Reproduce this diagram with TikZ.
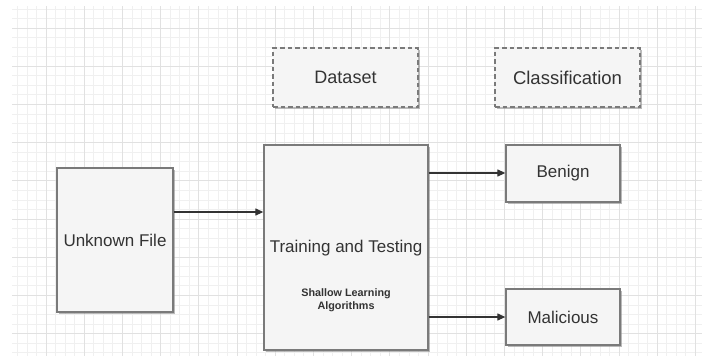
\documentclass[tikz,border=0pt]{standalone}
\usepackage{fontspec}
\setmainfont{Liberation Sans}
\usetikzlibrary{arrows.meta,shadows,calc}
\definecolor{boxfill}{HTML}{F5F5F5}
\definecolor{boxline}{HTML}{7A7A7A}
\definecolor{txt}{HTML}{333333}
\definecolor{gridminor}{HTML}{F0F0F0}
\definecolor{gridmajor}{HTML}{E1E1E1}
\tikzset{
  box/.style={draw=boxline, fill=boxfill, line width=1.3pt, rectangle,
    inner sep=0pt, text=txt, font=\fontsize{17}{20}\selectfont,
    drop shadow={shadow xshift=1.6pt, shadow yshift=-1.8pt, fill=black!45, opacity=0.6}},
  dashbox/.style={box, dash pattern=on 4.5pt off 3pt},
  plain/.style={text=txt, inner sep=0pt},
  link/.style={draw=txt, line width=1.2pt, -{Triangle[length=8pt,width=7pt]}},
}
\begin{document}
\begin{tikzpicture}[x=1pt,y=-1pt]
  \useasboundingbox (0,0) rectangle (702,356);
  \fill[white] (0,0) rectangle (702,356);
  % background grid
  \begin{scope}
    \clip (12,6) rectangle (702,356);
    \foreach \i in {-4,...,69} {
      \draw[gridminor, line width=0.8pt] ({46+9.55*\i},0) -- ({46+9.55*\i},356);
    }
    \foreach \i in {-3,...,36} {
      \draw[gridminor, line width=0.8pt] (0,{28+9.55*\i}) -- (702,{28+9.55*\i});
    }
    \foreach \i in {-1,...,18} {
      \draw[gridmajor, line width=0.9pt] ({46+38.2*\i},0) -- ({46+38.2*\i},356);
    }
    \foreach \i in {-1,...,9} {
      \draw[gridmajor, line width=0.9pt] (0,{28+38.2*\i}) -- (702,{28+38.2*\i});
    }
  \end{scope}

  % boxes
  \node[dashbox, minimum width=145pt, minimum height=59pt, font=\fontsize{18}{21}\selectfont]
    (ds) at (345.5,77.5) {Dataset};
  \node[dashbox, minimum width=145pt, minimum height=59pt, font=\fontsize{18.5}{21}\selectfont]
    (cls) at (567.5,77.5) {Classification};
  \node[box, minimum width=116pt, minimum height=144pt] (unk) at (115,240) {Unknown File};
  \node[box, minimum width=164pt, minimum height=205pt] (train) at (346,247.5) {};
  \node[plain, font=\fontsize{17}{20}\selectfont] (trainlbl) at (346,248) {Training and Testing};
  \node[plain, font=\bfseries\fontsize{10.8}{13}\selectfont, align=center] (algo) at (346,300.5)
    {Shallow Learning\\Algorithms};
  \node[box, minimum width=114pt, minimum height=57pt] (ben) at (563,173.5) {Benign};
  \node[box, minimum width=114pt, minimum height=56pt] (mal) at (563,317) {Malicious};

  % connectors
  \coordinate (unkout) at ($(unk.east)+(0,-28)$);
  \coordinate (benin) at ($(ben.west)+(0,-0.5)$);
  \draw[link] (unkout) -- (train.west |- unkout);
  \draw[link] (train.east |- benin) -- (benin);
  \draw[link] (train.east |- mal.west) -- (mal.west);
\end{tikzpicture}
\end{document}
